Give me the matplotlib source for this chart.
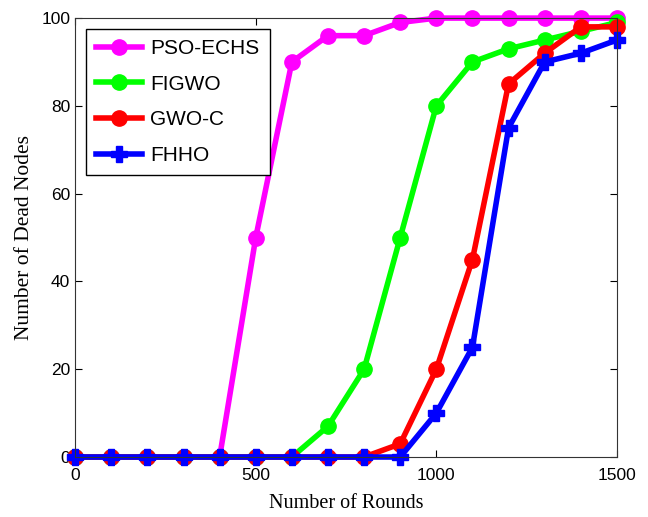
import matplotlib.pyplot as plt

rounds = [0, 100, 200, 300, 400, 500, 600, 700, 800, 900, 1000, 1100, 1200, 1300, 1400, 1500]
pso_echs = [0, 0, 0, 0, 0, 50, 90, 96, 96, 99, 100, 100, 100, 100, 100, 100]
figwo = [0, 0, 0, 0, 0, 0, 0, 7, 20, 50, 80, 90, 93, 95, 97, 99]
gwo_c = [0, 0, 0, 0, 0, 0, 0, 0, 0, 3, 20, 45, 85, 92, 98, 98]
fhho = [0, 0, 0, 0, 0, 0, 0, 0, 0, 0, 10, 25, 75, 90, 92, 95]

sans = 'Liberation Sans'

fig = plt.figure(figsize=(6.48, 5.17), dpi=100)
ax = fig.add_axes([0.116, 0.116, 0.836, 0.849])

lw = 4
ms = 11
ax.plot(rounds, pso_echs, '-o', color='#ff00ff', lw=lw, ms=ms, label='PSO-ECHS', clip_on=False)
ax.plot(rounds, figwo, '-o', color='#00ff00', lw=lw, ms=ms, label='FIGWO', clip_on=False)
ax.plot(rounds, gwo_c, '-o', color='#ff0000', lw=lw, ms=ms, label='GWO-C', clip_on=False)
ax.plot(rounds, fhho, '-P', color='#0000ff', lw=lw, ms=ms, label='FHHO', clip_on=False)

ax.set_xlim(0, 1500)
ax.set_ylim(0, 100)
ax.set_xticks([0, 500, 1000, 1500])
ax.set_yticks([0, 20, 40, 60, 80, 100])
ax.tick_params(direction='in', top=True, right=True, labelsize=12.5, length=5)
ax.tick_params(axis='x', pad=8)
for lab in ax.get_xticklabels() + ax.get_yticklabels():
    lab.set_family(sans)
for s in ax.spines.values():
    s.set_color('#333333')

ax.set_xlabel('Number of Rounds', family='Liberation Serif', fontsize=14.5, labelpad=8)
ax.set_ylabel('Number of Dead Nodes', family='Liberation Serif', fontsize=15.5, labelpad=5)

leg = ax.legend(loc='upper left', prop={'family': sans, 'size': 15},
                fancybox=False, edgecolor='black', framealpha=1,
                handlelength=2.2, borderaxespad=0.5, labelspacing=0.8,
                handletextpad=0.4, borderpad=0.5)
leg.get_frame().set_linewidth(1.0)

fig.savefig('out.png', dpi=100)
